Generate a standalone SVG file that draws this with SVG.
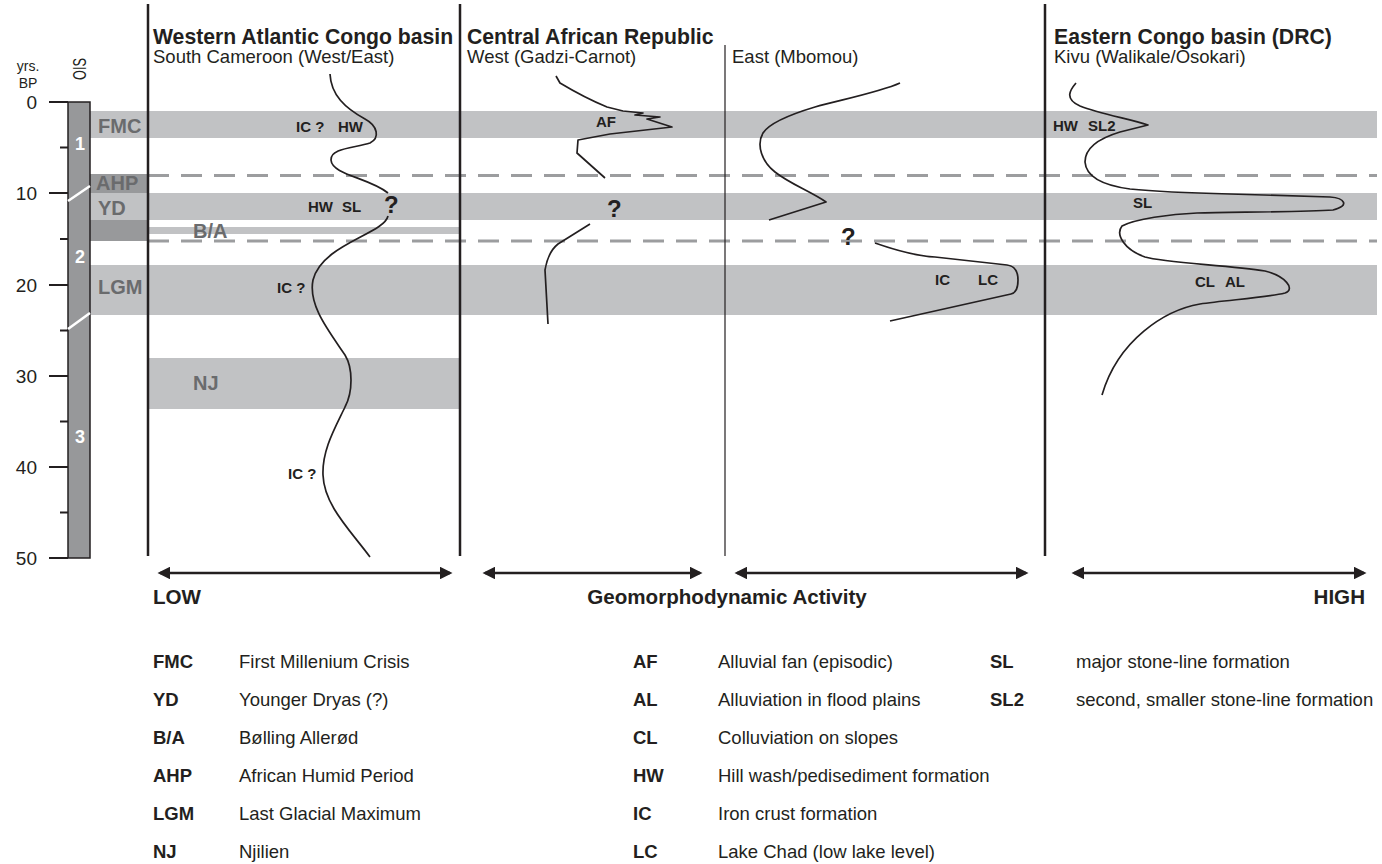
<svg xmlns="http://www.w3.org/2000/svg" width="1382" height="864" viewBox="0 0 1382 864">
<defs>
<style>
text{font-family:"Liberation Sans",Arial,sans-serif;fill:#231f20}
.band{fill:#c1c2c4}
.dark{fill:#98999b}
.blab{font-size:20px;font-weight:bold;fill:#6a6b6d}
.dash{stroke:#9c9d9f;stroke-width:3;stroke-dasharray:21 12;fill:none}
.vth{stroke:#231f20;stroke-width:2.5}
.vtn{stroke:#231f20;stroke-width:1.2}
.curve{fill:none;stroke:#231f20;stroke-width:1.7;stroke-linejoin:round}
.cl{font-size:15px;font-weight:bold}
.q{font-size:24px;font-weight:bold}
.h1{font-size:21.2px;font-weight:bold}
.h2{font-size:18.5px}
.tick{stroke:#231f20;stroke-width:2}
.ax{font-size:19px;text-anchor:end}
.ois{font-size:18px;font-weight:bold;fill:#fff;text-anchor:middle}
.arr{stroke:#231f20;stroke-width:2.5;marker-start:url(#ah);marker-end:url(#ah)}
.sc{font-size:20.6px;font-weight:bold}
.lab{font-size:18.5px;font-weight:bold}
.ldesc{font-size:18.5px}
</style>
<marker id="ah" viewBox="0 0 10 10" refX="8" refY="5" markerWidth="5.5" markerHeight="5" orient="auto-start-reverse" markerUnits="strokeWidth">
<path d="M0,0 L10,5 L0,10 z" fill="#231f20"/>
</marker>
</defs>

<g id="bands">
<rect class="band" x="90" y="111" width="1287" height="27"/>
<rect class="dark" x="90" y="174" width="58" height="19"/>
<rect class="band" x="90" y="193" width="1287" height="27"/>
<rect class="dark" x="90" y="220" width="58" height="21"/>
<rect class="band" x="148" y="227" width="312" height="7"/>
<rect class="band" x="90" y="265" width="1287" height="50"/>
<rect class="band" x="148" y="358" width="312" height="51"/>
<text class="blab" x="98" y="133">FMC</text>
<text class="blab" x="96" y="190">AHP</text>
<text class="blab" x="98" y="215">YD</text>
<text class="blab" x="193" y="238">B/A</text>
<text class="blab" x="98" y="294">LGM</text>
<text class="blab" x="193" y="390">NJ</text>
</g>

<g id="dashed">
<line class="dash" x1="148" y1="175.5" x2="1377" y2="175.5"/>
<line class="dash" x1="148" y1="241" x2="1377" y2="241"/>
</g>

<g id="axis">
<rect x="68" y="102" width="22" height="456" fill="#97989a" stroke="#231f20" stroke-width="1.5"/>
<line x1="68" y1="201" x2="90" y2="186" stroke="#fff" stroke-width="2.5"/>
<line x1="68" y1="329" x2="90" y2="313" stroke="#fff" stroke-width="2.5"/>
<text class="ois" x="80" y="150">1</text>
<text class="ois" x="80" y="263">2</text>
<text class="ois" x="80" y="443">3</text>
<line class="tick" x1="49" y1="102" x2="68" y2="102"/>
<line class="tick" x1="49" y1="193" x2="68" y2="193"/>
<line class="tick" x1="49" y1="285" x2="68" y2="285"/>
<line class="tick" x1="49" y1="376" x2="68" y2="376"/>
<line class="tick" x1="49" y1="467" x2="68" y2="467"/>
<line class="tick" x1="49" y1="558" x2="68" y2="558"/>
<line class="tick" x1="60" y1="147.5" x2="68" y2="147.5"/>
<line class="tick" x1="60" y1="239" x2="68" y2="239"/>
<line class="tick" x1="60" y1="330.5" x2="68" y2="330.5"/>
<line class="tick" x1="60" y1="421.5" x2="68" y2="421.5"/>
<line class="tick" x1="60" y1="512.5" x2="68" y2="512.5"/>
<text class="ax" x="37" y="109">0</text>
<text class="ax" x="37" y="200">10</text>
<text class="ax" x="37" y="292">20</text>
<text class="ax" x="37" y="383">30</text>
<text class="ax" x="37" y="474">40</text>
<text class="ax" x="37" y="565">50</text>
<text x="28" y="71" font-size="14" text-anchor="middle">yrs.</text>
<text x="28" y="88" font-size="14" text-anchor="middle">BP</text>
<text transform="translate(86,69) rotate(-90)" font-size="18" text-anchor="middle" textLength="22" lengthAdjust="spacingAndGlyphs">OIS</text>
</g>

<g id="columns">
<line class="vth" x1="148" y1="4" x2="148" y2="556"/>
<line class="vth" x1="460" y1="4" x2="460" y2="556"/>
<line class="vtn" x1="725" y1="45" x2="725" y2="556"/>
<line class="vth" x1="1045" y1="4" x2="1045" y2="556"/>
</g>

<g id="headers">
<text class="h1" x="153" y="44">Western Atlantic Congo basin</text>
<text class="h2" x="153" y="63">South Cameroon (West/East)</text>
<text class="h1" x="467" y="44">Central African Republic</text>
<text class="h2" x="467" y="63">West (Gadzi-Carnot)</text>
<text class="h2" x="732" y="63">East (Mbomou)</text>
<text class="h1" x="1054" y="44">Eastern Congo basin (DRC)</text>
<text class="h2" x="1054" y="63">Kivu (Walikale/Osokari)</text>
</g>

<g id="curve-cameroon">
<path class="curve" d="M330,74 C331,95 345,108 365,119 C378,126 380,138 370,143 C355,148 330,148 331,160 C332,175 370,178 388,193"/>
<path class="curve" d="M388,216 C384,234 322,244 313,280 C308,305 328,330 345,355 C353,368 353,392 345,407 C335,428 322,450 323,475 C324,505 350,530 370,557"/>
<text class="cl" x="296" y="132">IC ?</text>
<text class="cl" x="338" y="132">HW</text>
<text class="cl" x="308" y="212">HW</text>
<text class="cl" x="342" y="212">SL</text>
<text class="q" x="384" y="213">?</text>
<text class="cl" x="277" y="293">IC ?</text>
<text class="cl" x="288" y="479">IC ?</text>
</g>

<g id="curve-car-west">
<path class="curve" d="M556,76 L560,83 C575,92 590,100 607,107 L623,111 L643,113 L635,115 L660,117 L647,119 L672,127 L610,134 L578,140 L577,153 L605,178"/>
<path class="curve" d="M590,224 L558,244 Q548,252 545,270 L548,324"/>
<text class="cl" x="596" y="127">AF</text>
<text class="q" x="607" y="217">?</text>
</g>

<g id="curve-car-east">
<path class="curve" d="M900,83 C880,92 840,100 815,107 C795,113 770,122 763,133 C756,145 762,162 775,172 C790,184 812,192 826,202 L769,220"/>
<path class="curve" d="M875,243 C895,250 915,256 935,257 L1007,265 C1015,266 1018,272 1018,280 C1018,288 1016,293 1011,294 L890,321"/>
<text class="q" x="841" y="245" font-size="22">?</text>
<text class="cl" x="935" y="285">IC</text>
<text class="cl" x="978" y="285">LC</text>
</g>

<g id="curve-kivu">
<path class="curve" d="M1076,83 C1070,90 1064,99 1080,106 C1100,114 1130,119 1148,125 L1120,132 C1100,138 1085,148 1085,162 C1086,175 1100,185 1130,189 C1160,192 1190,193 1230,194 L1330,197 C1345,198 1350,206 1333,210 C1300,212 1230,212 1197,213 C1170,214 1135,219 1122,226 C1115,235 1125,250 1145,257 C1165,263 1230,265 1265,271 C1285,276 1296,289 1285,293 C1265,298 1225,300 1200,304 C1165,310 1118,340 1102,395"/>
<text class="cl" x="1053" y="131">HW</text>
<text class="cl" x="1088" y="131">SL2</text>
<text class="cl" x="1133" y="208">SL</text>
<text class="cl" x="1195" y="287">CL</text>
<text class="cl" x="1225" y="287">AL</text>
</g>

<g id="scale">
<line class="arr" x1="160" y1="573" x2="450" y2="573"/>
<line class="arr" x1="485" y1="573" x2="700" y2="573"/>
<line class="arr" x1="737" y1="573" x2="1026" y2="573"/>
<line class="arr" x1="1074" y1="573" x2="1364" y2="573"/>
<text class="sc" x="727" y="604" text-anchor="middle">Geomorphodynamic Activity</text>
<text class="sc" x="153" y="604">LOW</text>
<text class="sc" x="1365" y="604" text-anchor="end">HIGH</text>
</g>

<g id="legend">
<text class="lab" x="153" y="668">FMC</text><text class="ldesc" x="239" y="668">First Millenium Crisis</text>
<text class="lab" x="153" y="706">YD</text><text class="ldesc" x="239" y="706">Younger Dryas (?)</text>
<text class="lab" x="153" y="744">B/A</text><text class="ldesc" x="239" y="744">Bølling Allerød</text>
<text class="lab" x="153" y="782">AHP</text><text class="ldesc" x="239" y="782">African Humid Period</text>
<text class="lab" x="153" y="820">LGM</text><text class="ldesc" x="239" y="820">Last Glacial Maximum</text>
<text class="lab" x="153" y="858">NJ</text><text class="ldesc" x="239" y="858">Njilien</text>
<text class="lab" x="633" y="668">AF</text><text class="ldesc" x="718" y="668">Alluvial fan (episodic)</text>
<text class="lab" x="633" y="706">AL</text><text class="ldesc" x="718" y="706">Alluviation in flood plains</text>
<text class="lab" x="633" y="744">CL</text><text class="ldesc" x="718" y="744">Colluviation on slopes</text>
<text class="lab" x="633" y="782">HW</text><text class="ldesc" x="718" y="782">Hill wash/pedisediment formation</text>
<text class="lab" x="633" y="820">IC</text><text class="ldesc" x="718" y="820">Iron crust formation</text>
<text class="lab" x="633" y="858">LC</text><text class="ldesc" x="718" y="858">Lake Chad (low lake level)</text>
<text class="lab" x="990" y="668">SL</text><text class="ldesc" x="1076" y="668">major stone-line formation</text>
<text class="lab" x="990" y="706">SL2</text><text class="ldesc" x="1076" y="706">second, smaller stone-line formation</text>
</g>
</svg>
